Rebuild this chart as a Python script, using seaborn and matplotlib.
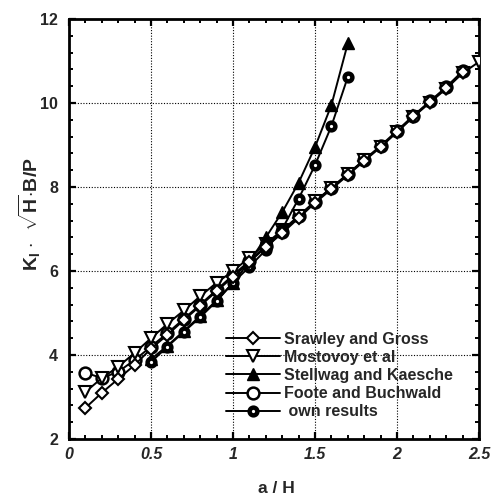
import matplotlib
matplotlib.use("Agg")
import matplotlib.pyplot as plt
import seaborn as sns
import numpy as np
import pandas as pd
from matplotlib.ticker import MultipleLocator

# ---- data ----
x_sg = [0.1, 0.2, 0.3, 0.4, 0.5, 0.6, 0.7, 0.8, 0.9, 1.0, 1.1, 1.2,
        1.3, 1.4, 1.5, 1.6, 1.7, 1.8, 1.9, 2.0, 2.1, 2.2, 2.3, 2.4]
y_sg = [2.74, 3.10, 3.43, 3.76, 4.15, 4.48, 4.83, 5.17, 5.52, 5.86, 6.21, 6.57,
        6.90, 7.26, 7.62, 7.95, 8.28, 8.62, 8.95, 9.31, 9.68, 10.02, 10.36, 10.74]

x_mo = [0.1, 0.2, 0.3, 0.4, 0.5, 0.6, 0.7, 0.8, 0.9, 1.0, 1.1, 1.2, 1.3,
        1.4, 1.5, 1.6, 1.7, 1.8, 1.9, 2.0, 2.1, 2.2, 2.3, 2.4, 2.5]
y_mo = [3.12, 3.45, 3.72, 4.05, 4.40, 4.74, 5.06, 5.40, 5.72, 6.00, 6.32, 6.65, 6.97,
        7.31, 7.66, 7.98, 8.31, 8.64, 8.96, 9.31, 9.67, 10.01, 10.34, 10.71, 10.98]

x_st = [0.5, 0.6, 0.7, 0.8, 0.9, 1.0, 1.1, 1.2, 1.3, 1.4, 1.5, 1.6, 1.7]
y_st = [3.90, 4.22, 4.57, 4.93, 5.30, 5.72, 6.22, 6.80, 7.40, 8.10, 8.95, 9.95, 11.42]

x_fb = [0.1, 0.2, 0.3, 0.4, 0.5, 0.6, 0.7, 0.8, 0.9, 1.0, 1.1, 1.2,
        1.3, 1.4, 1.5, 1.6, 1.7, 1.8, 1.9, 2.0, 2.1, 2.2, 2.3, 2.4]
y_fb = [3.58, 3.45, 3.60, 3.88, 4.20, 4.52, 4.86, 5.20, 5.55, 5.90, 6.24, 6.60,
        6.94, 7.30, 7.65, 7.98, 8.31, 8.65, 8.98, 9.34, 9.70, 10.04, 10.38, 10.76]

x_own = [0.5, 0.6, 0.7, 0.8, 0.9, 1.0, 1.1, 1.2, 1.3, 1.4, 1.5, 1.6, 1.7]
y_own = [3.83, 4.20, 4.55, 4.90, 5.28, 5.72, 6.10, 6.50, 7.00, 7.72, 8.52, 9.45, 10.62]

labels = ["Srawley and Gross", "Mostovoy et al", "Stellwag and Kaesche",
          "Foote and Buchwald", " own results"]

x_ticks = [0, 0.5, 1, 1.5, 2, 2.5]
x_ticklabels = ["0", "0.5", "1", "1.5", "2", "2.5"]
y_ticks = [2, 4, 6, 8, 10, 12]

# ---- style ----
sns.set_style("white")
plt.rcParams["font.family"] = ["Liberation Sans", "DejaVu Sans"]
plt.rcParams["font.weight"] = "bold"
plt.rcParams["mathtext.fontset"] = "custom"
plt.rcParams["mathtext.rm"] = "Liberation Sans:bold"
plt.rcParams["mathtext.bf"] = "Liberation Sans:bold"
plt.rcParams["mathtext.it"] = "Liberation Sans:bold"

fig = plt.figure(figsize=(4.93, 4.98), dpi=100)
ax = fig.add_axes([69 / 493, 59 / 498, 410 / 493, 420 / 498])

lw = 1.4
common = dict(color="black", linewidth=lw, sort=False, ax=ax)

sns.lineplot(x=x_mo, y=y_mo, marker="v", markersize=9, markerfacecolor="white",
             markeredgecolor="black", markeredgewidth=1.5, label=labels[1], zorder=3, **common)
sns.lineplot(x=x_st, y=y_st, marker="^", markersize=9, markerfacecolor="black",
             markeredgecolor="black", markeredgewidth=1.0, label=labels[2], zorder=4, **common)
sns.lineplot(x=x_fb, y=y_fb, marker="o", markersize=8.5, markerfacecolor="white",
             markeredgecolor="black", markeredgewidth=1.8, label=labels[3], zorder=2, **common)
sns.lineplot(x=x_own, y=y_own, marker="o", markersize=5.6, markerfacecolor="white",
             markeredgecolor="black", markeredgewidth=3.2, label=labels[4], zorder=4, **common)
sns.lineplot(x=x_sg, y=y_sg, marker="D", markersize=6.5, markerfacecolor="white",
             markeredgecolor="black", markeredgewidth=1.5, label=labels[0], zorder=5, **common)

ax.set_xlim(0, 2.5)
ax.set_ylim(2, 12)
ax.set_xticks(x_ticks)
ax.set_xticklabels(x_ticklabels, fontsize=11.5, fontweight="bold", fontstyle="italic")
ax.set_yticks(y_ticks)
ax.set_yticklabels([str(v) for v in y_ticks], fontsize=11.5, fontweight="bold")
ax.xaxis.set_minor_locator(MultipleLocator(0.1))
ax.yaxis.set_minor_locator(MultipleLocator(0.4))
ax.tick_params(which="both", direction="in", top=True, right=True, bottom=True, left=True,
               color="black")
ax.tick_params(which="major", length=5, width=1.6)
ax.tick_params(which="minor", length=3, width=1.4)
ax.tick_params(axis="x", which="major", pad=6)
ax.tick_params(axis="y", which="major", pad=8)

for s in ax.spines.values():
    s.set_linewidth(2.0)
    s.set_color("black")

ax.grid(True, which="major", linestyle=(0, (1, 1.5)), linewidth=0.8, color="black")

ax.set_xlabel("a / H", fontsize=12.5, fontweight="bold")
ax.set_ylabel(r"$\mathbf{K_I}$ $\cdot$  $\sqrt{\mathbf{H}}$$\cdot$B/P", fontsize=14, fontweight="bold")
ax.xaxis.set_label_coords((276 - 69) / 410, (439 - 488) / 420)
ax.xaxis.label.set_verticalalignment("center")
ax.yaxis.set_label_coords((30 - 69) / 410, (439 - 214) / 420)
ax.yaxis.label.set_verticalalignment("center")

handles, labs = ax.get_legend_handles_labels()
order = [labs.index(l) for l in labels]
leg = ax.legend([handles[i] for i in order], [labs[i] for i in order],
                loc="upper left", bbox_to_anchor=(226 / 493, 1 - 332 / 498),
                bbox_transform=fig.transFigure, frameon=False,
                prop={"weight": "bold", "size": 11.5, "family": "Liberation Sans"},
                handlelength=3.4, handletextpad=0.25, labelspacing=0.19, borderpad=0,
                borderaxespad=0)
leg.set_zorder(10)

fig.savefig("out.png", dpi=100)
